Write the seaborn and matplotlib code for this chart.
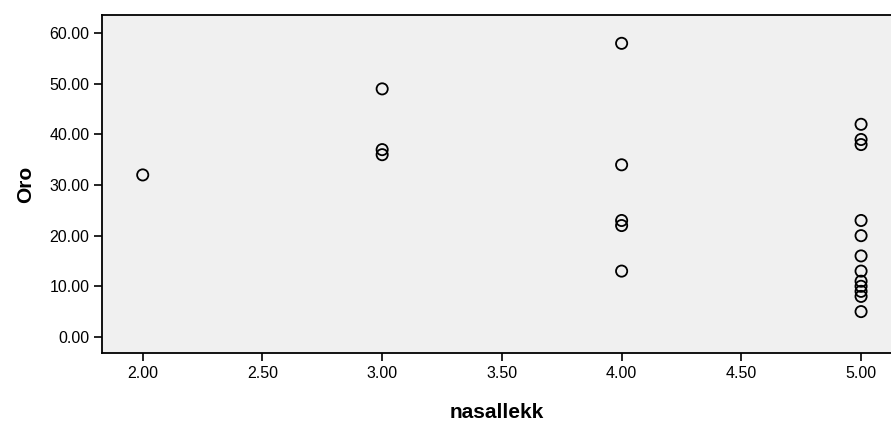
import numpy as np
import pandas as pd
import matplotlib
matplotlib.use("Agg")
import matplotlib.pyplot as plt
import seaborn as sns

# ==============================
# Data
# ==============================

nasallekk = [2, 3, 3, 3, 4, 4, 4, 4, 4,
             5, 5, 5, 5, 5, 5, 5, 5, 5, 5, 5, 5]
oro = [32, 49, 37, 36, 58, 34, 23, 22, 13,
       42, 39, 38, 23, 20, 16, 13, 11, 10, 9, 8, 5]

x_ticks = [2.0, 2.5, 3.0, 3.5, 4.0, 4.5, 5.0]
y_ticks = [0, 10, 20, 30, 40, 50, 60]

df = pd.DataFrame({"nasallekk": nasallekk, "Oro": oro})

# ==============================
# Plot
# ==============================

sns.set_style("white")
plt.rcParams["font.family"] = ["Liberation Sans", "DejaVu Sans"]
plt.rcParams["text.color"] = "black"
plt.rcParams["axes.labelcolor"] = "black"
plt.rcParams["xtick.color"] = "black"
plt.rcParams["ytick.color"] = "black"

fig = plt.figure(figsize=(8.91, 4.28), dpi=100)
ax = fig.add_axes([0.1145, 0.175, 0.8855, 0.79])
ax.set_facecolor("#f0f0f0")

sns.scatterplot(data=df, x="nasallekk", y="Oro", ax=ax,
                marker="o", s=65, facecolor="none",
                edgecolor="black", linewidth=1.3)

ax.set_xlim(1.83, 5.125)
ax.set_ylim(-3.2, 63.6)
ax.set_xticks(x_ticks)
ax.set_yticks(y_ticks)
ax.set_xticklabels([f"{v:.2f}" for v in x_ticks], fontsize=11.5)
ax.set_yticklabels([f"{v:.2f}" for v in y_ticks], fontsize=11.5)
ax.tick_params(axis="both", direction="out", length=6, width=1.2,
               color="black", bottom=True, left=True, pad=3)

for side in ["left", "bottom", "top"]:
    ax.spines[side].set_color("black")
    ax.spines[side].set_linewidth(1.3)
ax.spines["right"].set_visible(False)

ax.set_xlabel("nasallekk", fontsize=15, fontweight="bold", labelpad=16)
ax.set_ylabel("Oro", fontsize=15, fontweight="bold", labelpad=10)

fig.savefig("out.png", dpi=100)
